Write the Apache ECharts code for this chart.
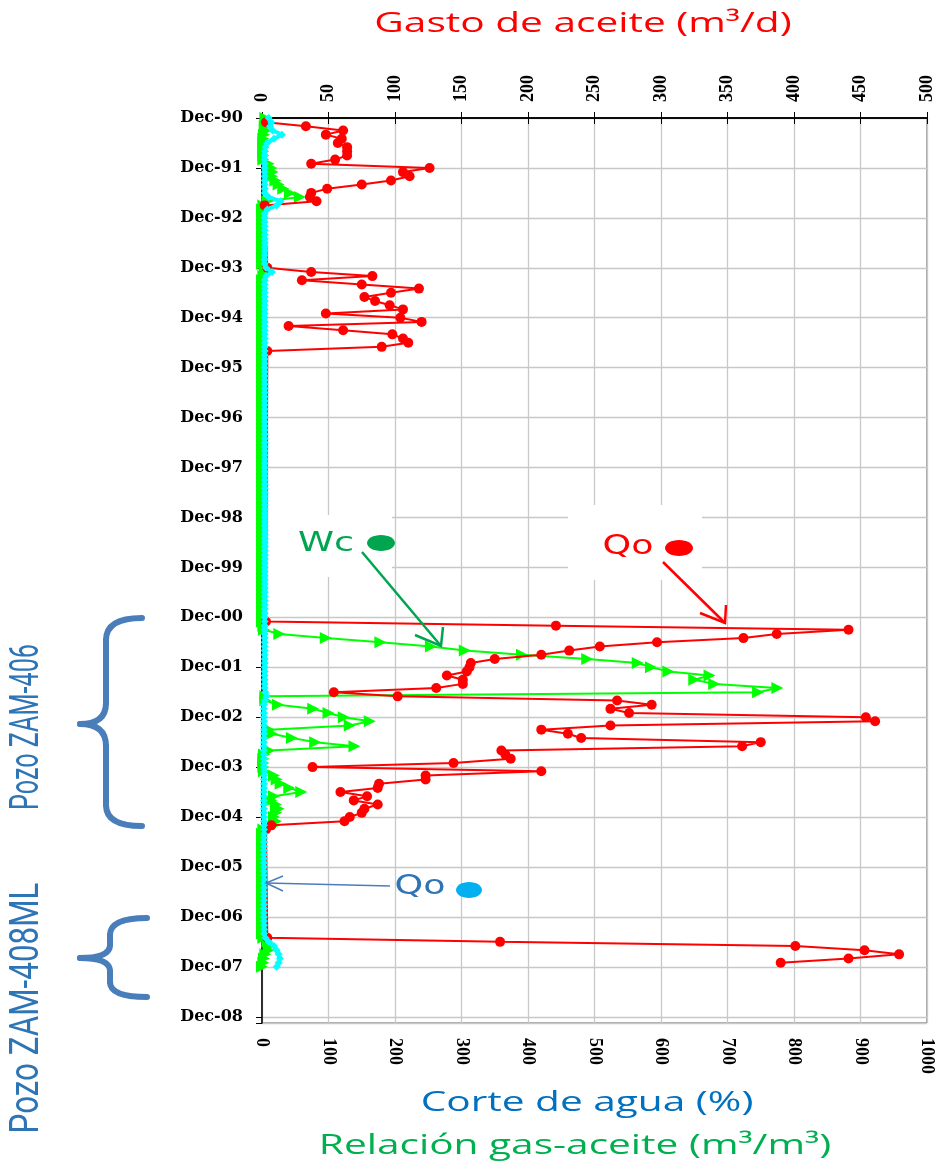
<!DOCTYPE html>
<html>
<head>
<meta charset="utf-8">
<script src="https://cdn.jsdelivr.net/npm/echarts@6/dist/echarts.min.js"></script>
<style>
html,body{margin:0;padding:0;background:#fff;}
#chart{width:936px;height:1163px;}
</style>
</head>
<body>
<div id="chart"></div>
<script>
// ---------- DATA ----------
// Y tick labels (one per December)
const yearLabels = ['Dec-90','Dec-91','Dec-92','Dec-93','Dec-94','Dec-95','Dec-96','Dec-97','Dec-98',
  'Dec-99','Dec-00','Dec-01','Dec-02','Dec-03','Dec-04','Dec-05','Dec-06','Dec-07','Dec-08'];

// Gasto de aceite (red, m3/d, top axis) : dates and values
const qoDates = [
  '1991-01','1991-02','1991-03','1991-04','1991-05','1991-06','1991-07','1991-08','1991-09','1991-10','1991-11','1991-12',
  '1992-01','1992-02','1992-03','1992-04','1992-05','1992-06','1992-07','1992-08','1992-09',
  '1993-12','1994-01','1994-02','1994-03','1994-04','1994-05','1994-06','1994-07','1994-08','1994-09','1994-10','1994-11','1994-12',
  '1995-01','1995-02','1995-03','1995-04','1995-05','1995-06','1995-07','1995-08',
  '2001-01','2001-02','2001-03','2001-04','2001-05','2001-06','2001-07','2001-08','2001-09','2001-10','2001-11','2001-12',
  '2002-01','2002-02','2002-03','2002-04','2002-05','2002-06','2002-07','2002-08','2002-09','2002-10','2002-11','2002-12',
  '2003-01','2003-02','2003-03','2003-04','2003-05','2003-06','2003-07','2003-08','2003-09','2003-10','2003-11','2003-12',
  '2004-01','2004-02','2004-03','2004-04','2004-05','2004-06','2004-07','2004-08','2004-09','2004-10','2004-11','2004-12',
  '2005-01','2005-02','2005-03',
  '2007-05','2007-06','2007-07','2007-08','2007-09','2007-10','2007-11'
];
const qoValues = [
  3,33,61,48,60,57,64,64,64,55,37,126,
  106,111,97,75,49,37,36,41,2,
  4,37,83,30,75,118,97,77,85,96,106,48,104,
  120,20,61,98,106,110,90,4,
  3,221,441,387,362,297,254,231,210,175,157,156,
  154,139,151,151,131,54,102,267,293,262,276,454,
  461,262,210,230,240,375,361,180,183,187,144,38,
  210,123,123,88,87,59,79,69,87,77,75,66,
  62,7,3,
  4,179,401,453,479,441,390
];

// Green series (bottom axis), monthly from Dec-90
const rgaStart = '1990-12';
const rgaValues = [
  5,8,4,6,3,2,2,2,2,2,2,10,
  14,16,15,20,25,32,42,57,8,2,0,0,
  0,0,0,0,0,0,0,0,0,0,0,0,
  4,8,2,0,0,0,0,0,0,0,0,0,
  0,0,0,0,0,0,0,0,0,0,0,0,
  0,0,0,0,0,0,0,0,0,0,0,0,
  0,0,0,0,0,0,0,0,0,0,0,0,
  0,0,0,0,0,0,0,0,0,0,0,0,
  0,0,0,0,0,0,0,0,0,0,0,0,
  0,0,0,0,0,0,0,0,0,0,0,0,
  0,0,2,3,26,96,178,254,305,391,489,565,
  585,611,673,650,680,775,746,5,5,24,77,100,
  123,162,132,11,15,45,80,139,11,3,2,2,
  2,3,18,22,28,41,59,18,14,21,25,21,
  18,21,18,2,0,0,0,0,0,0,0,0,
  0,0,0,0,0,0,0,0,0,0,0,0,
  0,0,0,0,0,2,8,12,10,5,3,2,0
];

// Cyan series (bottom axis), monthly from Dec-90
const cyanStart = '1990-12';
const cyanValues = [
  10,14,12,16,30,18,8,5,4,4,4,4,
  4,4,4,4,4,4,4,10,28,22,8,4,
  4,4,4,4,4,4,4,4,4,4,4,4,
  6,15,6,4,4,4,4,4,4,4,4,4,
  4,4,4,4,4,4,4,4,4,4,4,4,
  4,4,4,4,4,4,4,4,4,4,4,4,
  4,4,4,4,4,4,4,4,4,4,4,4,
  4,4,4,4,4,4,4,4,4,4,4,4,
  4,4,4,4,4,4,4,4,4,4,4,4,
  4,4,4,4,4,4,4,4,4,4,4,4,
  4,4,4,4,4,4,4,4,4,4,4,4,
  4,4,4,4,4,4,5,7,4,3,3,3,
  3,3,3,3,3,3,3,3,3,3,3,3,
  3,3,3,3,3,3,3,3,3,3,3,3,
  3,3,3,3,3,3,3,3,3,3,3,3,
  3,3,3,3,3,3,3,3,3,3,3,3,
  3,3,3,3,3,5,10,18,22,25,27,25,22
];

// ---------- BUILD ----------
function toMonth(d){ const p=d.split('-').map(Number); return (p[0]-1990)*12 + (p[1]-12); }
const qoData = qoDates.map((d,i)=>[qoValues[i], toMonth(d)]);
const rgaData = rgaValues.map((v,i)=>[v, toMonth(rgaStart)+i]);
const cyanData = cyanValues.map((v,i)=>[v, toMonth(cyanStart)+i]);

const tickFont = {fontFamily:'Liberation Serif', fontWeight:'bold', fontSize:18, color:'#000',
  formatter:function(v){ return String(v); }};
const chart = echarts.init(document.getElementById('chart'), null, {renderer:'canvas'});
const SX = 1.45;
const BR = '#4a7ebb';

function txt(x, y, text, fill, font, extra){
  return Object.assign({type:'text', z:100, x:x, y:y,
    style:{text:text, fill:fill, font:font, align:'center', verticalAlign:'middle', textAlign:'center', textVerticalAlign:'middle'}}, extra||{});
}
function seg(p){ return {type:'polyline', z:100, shape:{points:p}, style:{stroke:BR, lineWidth:6, fill:null, lineCap:'round'}}; }
function qc(x1,y1,cx,cy,x2,y2){ return {type:'bezierCurve', z:100, shape:{x1:x1,y1:y1,cpx1:cx,cpy1:cy,x2:x2,y2:y2}, style:{stroke:BR, lineWidth:6, fill:null, lineCap:'round'}}; }

chart.setOption({
  animation:false,
  backgroundColor:'#fff',
  grid:{left:262, right:7, top:118, bottom:140, show:true, borderColor:'#555', borderWidth:1},
  xAxis:[
    {type:'value', position:'bottom', min:0, max:1000, interval:100,
     axisLine:{show:true, lineStyle:{color:'#000', width:1.5}},
     axisTick:{show:true, length:6, lineStyle:{color:'#000'}},
     axisLabel:Object.assign({rotate:-90, margin:15}, tickFont),
     splitLine:{show:true, lineStyle:{color:'#c8c8c8', width:1.3}}},
    {type:'value', position:'top', min:0, max:500, interval:50,
     axisLine:{show:true, lineStyle:{color:'#000', width:1.5}},
     axisTick:{show:true, length:6, lineStyle:{color:'#000'}},
     axisLabel:Object.assign({rotate:-90, margin:16}, tickFont),
     splitLine:{show:false}}
  ],
  yAxis:{type:'value', inverse:true, min:0, max:217.5, interval:12,
     axisLine:{show:true, lineStyle:{color:'#000', width:1.5}},
     axisTick:{show:true, length:6, lineStyle:{color:'#000'}},
     axisLabel:{margin:19, fontFamily:'DejaVu Serif', fontWeight:'bold', fontSize:16, color:'#000',
       formatter:function(v){ return (v%12===0 && yearLabels[v/12]) ? yearLabels[v/12] : ''; }},
     splitLine:{show:true, lineStyle:{color:'#c8c8c8', width:1.3}}},
  series:[
    {type:'line', name:'RGA', xAxisIndex:0, yAxisIndex:0, data:rgaData, z:3,
     symbol:'triangle', symbolRotate:-90, symbolSize:12,
     lineStyle:{color:'#00ff00', width:2}, itemStyle:{color:'#00ff00'}},
    {type:'line', name:'Qo', xAxisIndex:1, yAxisIndex:0, data:qoData, z:4,
     symbol:'circle', symbolSize:10,
     lineStyle:{color:'#ff0000', width:2}, itemStyle:{color:'#ff0000'}},
    {type:'line', name:'Wc', xAxisIndex:0, yAxisIndex:0, data:cyanData, z:5,
     symbol:'diamond', symbolSize:8,
     lineStyle:{color:'#00ffff', width:4}, itemStyle:{color:'#00ffff'}}
  ],
  graphic:{elements:[
    // white patches behind annotations
    {type:'rect', z:1, shape:{x:268, y:515, width:124, height:62}, style:{fill:'#fff'}},
    {type:'rect', z:1, shape:{x:568, y:505, width:134, height:75}, style:{fill:'#fff'}},
    // titles
    txt(583, 24, 'Gasto de aceite (m³/d)', '#ff0000', '28px "Open Sans"', {scaleX:SX}),
    txt(587, 1103, 'Corte de agua (%)', '#0070c0', '28px "Open Sans"', {scaleX:SX}),
    txt(575, 1146, 'Relación gas-aceite (m³/m³)', '#00b050', '28px "Open Sans"', {scaleX:SX}),
    // bracket 1
    qc(142,618,106,618,106,640), seg([[106,640],[106,703]]), qc(106,703,106,724,80,724),
    qc(80,724,106,724,106,746), seg([[106,746],[106,805]]), qc(106,805,106,826,142,826),
    // bracket 2
    qc(147,918,110,918,110,935), seg([[110,935],[110,945]]), qc(110,945,110,958,80,958),
    qc(80,958,110,958,110,971), seg([[110,971],[110,982]]), qc(110,982,110,997,147,997),
    txt(28, 727, 'Pozo ZAM-406', '#2e75b6', '28px Roboto', {rotation:Math.PI/2, scaleX:0.9, scaleY:1.45}),
    txt(28, 1008, 'Pozo ZAM-408ML', '#2e75b6', '28px Roboto', {rotation:Math.PI/2, scaleX:1.12, scaleY:1.45}),
    // Wc annotation
    txt(326, 544, 'Wc', '#00a550', '26px "DejaVu Sans"', {scaleX:1.4}),
    {type:'ellipse', z:100, shape:{cx:381, cy:543, rx:14, ry:8}, style:{fill:'#00a550'}},
    {type:'polyline', z:100, shape:{points:[[362,552],[441,646]]}, style:{stroke:'#00a550', lineWidth:2.5, fill:null}},
    {type:'polyline', z:100, shape:{points:[[443,627],[441,646],[415,635]]}, style:{stroke:'#00a550', lineWidth:2.5, fill:null}},
    // Qo red annotation
    txt(628, 547, 'Qo', '#ff0000', '26px "DejaVu Sans"', {scaleX:1.4}),
    {type:'ellipse', z:100, shape:{cx:679, cy:548, rx:14, ry:8}, style:{fill:'#ff0000'}},
    {type:'polyline', z:100, shape:{points:[[663,562],[725,623]]}, style:{stroke:'#ff0000', lineWidth:2.5, fill:null}},
    {type:'polyline', z:100, shape:{points:[[726,605],[725,623],[700,613]]}, style:{stroke:'#ff0000', lineWidth:2.5, fill:null}},
    // Qo cyan annotation
    txt(420, 887, 'Qo', '#2e75b6', '26px "DejaVu Sans"', {scaleX:1.4}),
    {type:'ellipse', z:100, shape:{cx:469, cy:890, rx:13, ry:8}, style:{fill:'#00b0f0'}},
    {type:'polyline', z:100, shape:{points:[[390,886],[266,883]]}, style:{stroke:'#4a7ebb', lineWidth:1.5, fill:null}},
    {type:'polyline', z:100, shape:{points:[[283,876],[266,883],[283,891]]}, style:{stroke:'#4a7ebb', lineWidth:1.5, fill:null}}
  ]}
});
</script>
</body>
</html>
